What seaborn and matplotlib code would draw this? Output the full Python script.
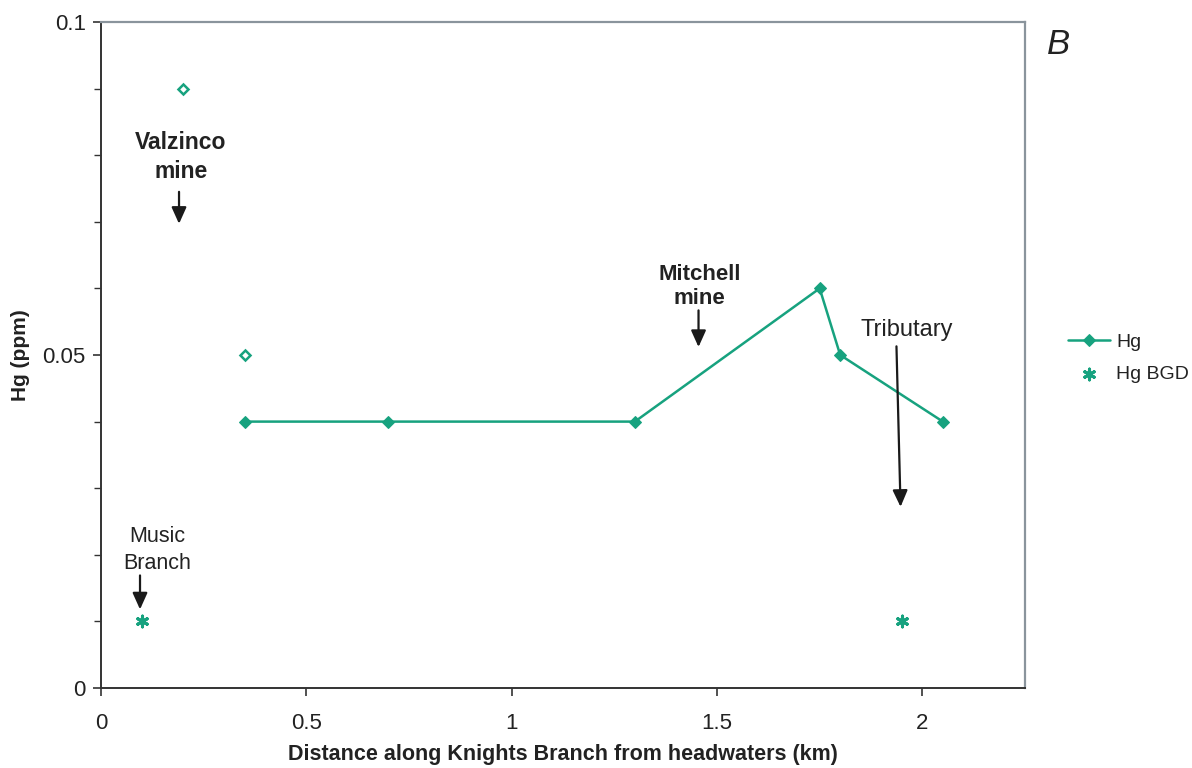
import matplotlib
matplotlib.use("Agg")
import matplotlib.pyplot as plt
import seaborn as sns
import pandas as pd

# Data
hg_x = [0.35, 0.7, 1.3, 1.75, 1.8, 2.05]
hg_y = [0.04, 0.04, 0.04, 0.06, 0.05, 0.04]
open_x = [0.2, 0.35]
open_y = [0.09, 0.05]
bgd_x = [0.1, 1.95]
bgd_y = [0.01, 0.01]
x_ticks = [0, 0.5, 1, 1.5, 2]
x_tick_labels = ["0", "0.5", "1", "1.5", "2"]
y_ticks = [0, 0.05, 0.1]
y_tick_labels = ["0", "0.05", "0.1"]

sns.set_style("white")
plt.rcParams['font.family'] = ['Liberation Sans', 'DejaVu Sans']

color = "#17a27f"
fig = plt.figure(figsize=(11.92, 7.68), dpi=100)
ax = fig.add_axes([101/1192, 1-688/768, (1025-101)/1192, (688-22)/768])

df_hg = pd.DataFrame({"x": hg_x, "y": hg_y})
df_open = pd.DataFrame({"x": open_x, "y": open_y})
df_bgd = pd.DataFrame({"x": bgd_x, "y": bgd_y})

sns.lineplot(data=df_hg, x="x", y="y", ax=ax, color=color, lw=1.8,
             marker="D", markersize=6, markeredgecolor=color, label="Hg")
sns.scatterplot(data=df_bgd, x="x", y="y", ax=ax, color=color, marker=(6, 2, 0),
                s=60, linewidth=2.2, label="Hg BGD")
ax.plot(open_x, open_y, ls="none", marker="D", markersize=5.5, markerfacecolor="white",
        markeredgecolor=color, markeredgewidth=1.8)

ax.set_xlim(0, 2.25)
ax.set_ylim(0, 0.1)
ax.set_xticks(x_ticks)
ax.set_xticklabels(x_tick_labels)
ax.set_yticks(y_ticks)
ax.set_yticklabels(y_tick_labels)
ax.set_yticks([0.01, 0.02, 0.03, 0.04, 0.06, 0.07, 0.08, 0.09], minor=True)
ax.tick_params(axis="both", which="major", direction="out", length=6, width=1.2,
               color="#333333", labelsize=16, labelcolor="#222222", bottom=True, left=True, pad=5)
ax.tick_params(axis="y", which="minor", direction="out", length=5, width=1.0,
               color="#333333", left=True)
ax.tick_params(axis="x", pad=12)

for s in ["left", "bottom"]:
    ax.spines[s].set_color("#333333")
    ax.spines[s].set_linewidth(1.4)
for s in ["top", "right"]:
    ax.spines[s].set_color("#8a949c")
    ax.spines[s].set_linewidth(1.6)

ax.set_xlabel("Distance along Knights Branch from headwaters (km)", fontsize=15.5,
              fontweight="bold", color="#222222", labelpad=7)
ax.set_ylabel("Hg (ppm)", fontsize=15, fontweight="bold", color="#222222", labelpad=9)

# Annotations
arrow_kw = dict(arrowstyle="-|>,head_length=1.0,head_width=0.45", color="#1a1a1a", lw=1.6,
                shrinkA=0, shrinkB=0)
ax.text(0.194, 0.0797, "Valzinco\nmine", ha="center", va="center", fontsize=16.5,
        fontweight="bold", color="#222222", linespacing=1.3)
ax.annotate("", xy=(0.19, 0.0697), xytext=(0.19, 0.0745), arrowprops=arrow_kw)

ax.text(0.136, 0.0207, "Music\nBranch", ha="center", va="center", fontsize=15.5,
        color="#222222", linespacing=1.35)
ax.annotate("", xy=(0.095, 0.0118), xytext=(0.095, 0.0169), arrowprops=arrow_kw)

ax.text(1.458, 0.0603, "Mitchell\nmine", ha="center", va="center", fontsize=16,
        fontweight="bold", color="#222222", linespacing=1.2)
ax.annotate("", xy=(1.455, 0.0512), xytext=(1.455, 0.0567), arrowprops=arrow_kw)

ax.text(1.961, 0.0537, "Tributary", ha="center", va="center", fontsize=17, color="#222222")
ax.annotate("", xy=(1.947, 0.0272), xytext=(1.937, 0.0513), arrowprops=arrow_kw)

fig.text(1058/1192, 1-45/768, "B", fontsize=25, fontstyle="italic", ha="center", va="center",
         color="#222222")

leg = ax.legend(loc="center left", bbox_to_anchor=(1.046, 0.495), frameon=False, fontsize=14,
                handlelength=2.2, handletextpad=0.3, labelspacing=0.75, borderaxespad=0,
                borderpad=0)
for t in leg.get_texts():
    t.set_color("#222222")

fig.savefig("out.png", dpi=100)
